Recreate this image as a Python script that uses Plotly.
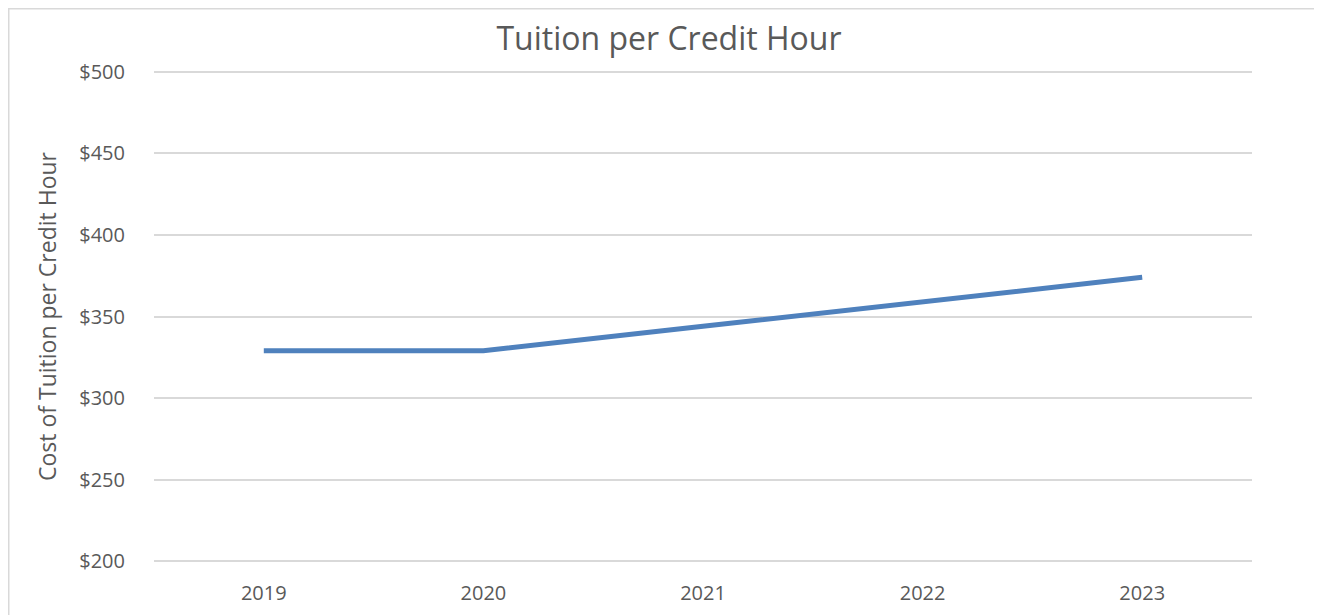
import plotly.graph_objects as go

years = ["2019", "2020", "2021", "2022", "2023"]
tuition = [329, 329, 344, 359, 374]
y_ticks = [200, 250, 300, 350, 400, 450, 500]
y_tick_labels = ["$200", "$250", "$300", "$350", "$400", "$450", "$500"]

FONT = "'Open Sans', Lato, sans-serif"
TXT = "#595959"

# page body has an 8px margin; plot area wanted at x 154..1252, y 72..561
W, H = 1322, 615
L, R, T, B = 146, 78, 62, 60
PW = W - L - R
PH = H - T - B

fig = go.Figure()
fig.add_trace(go.Scatter(
    x=years, y=tuition, mode="lines",
    line=dict(color="#4f81bd", width=5),
    hoverinfo="x+y", showlegend=False,
))

fig.update_layout(
    width=W, height=H,
    margin=dict(l=L, r=R, t=T, b=B),
    paper_bgcolor="white", plot_bgcolor="white",
    font=dict(family=FONT, color=TXT, size=20),
    title=dict(text="Tuition per Credit Hour", x=0.5, xref="container",
               y=1 - 31 / H, yref="container", yanchor="middle",
               font=dict(size=32, color=TXT, family=FONT)),
    xaxis=dict(type="category", range=[-0.5, 4.5], showgrid=False,
               showline=False, zeroline=False, ticks="",
               tickfont=dict(size=20, color=TXT), ticklabelstandoff=16),
    yaxis=dict(range=[199, 501], tickvals=y_ticks, ticktext=y_tick_labels,
               showgrid=True, gridcolor="#d9d9d9", gridwidth=1.5,
               zeroline=False, showline=False, ticks="",
               tickfont=dict(size=20, color=TXT), ticklabelstandoff=28,
               title=dict(text="Cost of Tuition per Credit Hour",
                          font=dict(size=23, color=TXT), standoff=16)),
    shapes=[dict(type="rect", xref="paper", yref="paper",
                 x0=(0.5 - L) / PW, x1=(1312 - L) / PW,
                 y0=-0.3, y1=(H - B - 0.5) / PH,
                 line=dict(color="#d9d9d9", width=2), layer="below")],
)

fig.write_html("out.html")
